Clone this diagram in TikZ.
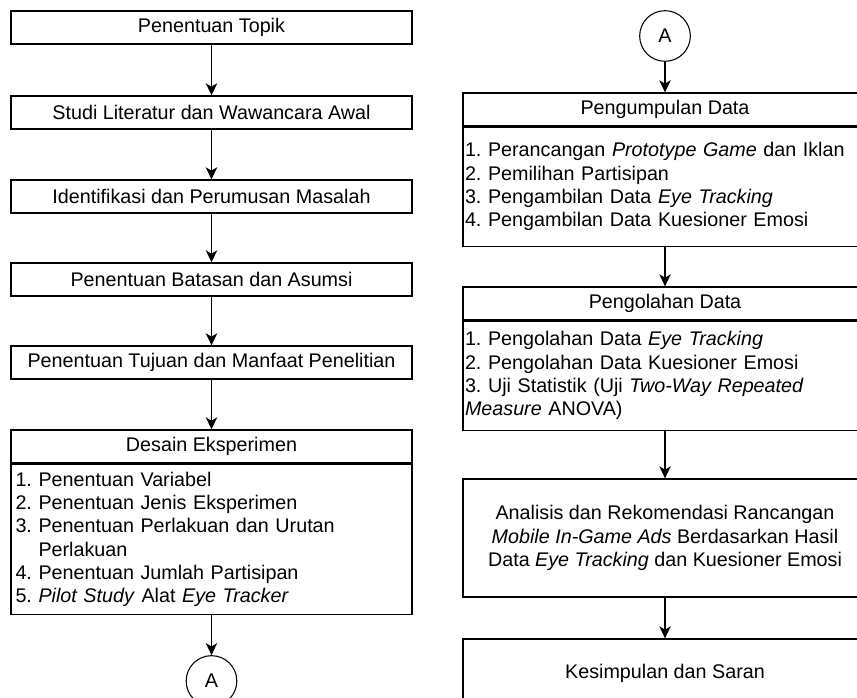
\documentclass[tikz,border=0pt]{standalone}
\usepackage{fontspec}
\setmainfont{Liberation Sans}
\usetikzlibrary{arrows.meta}
\frenchspacing

\begin{document}
\begin{tikzpicture}[x=0.75pt,y=-0.75pt,
	every node/.style={font=\fontsize{14.8}{17.5}\selectfont},
	kotak/.style={draw, line width=1pt, rectangle, inner sep=0pt},
	kiri/.style={kotak, minimum width=300.75pt},
	kanan/.style={kotak, minimum width=303pt},
	isikiri/.style={kiri, align=left, text width=294pt},
	isikanan/.style={kanan, align=left, text width=300pt},
	konektor/.style={draw, circle, line width=0.8pt, minimum size=38pt, inner sep=0pt},
	panah/.style={line width=1pt, -{Stealth[length=9pt,width=8.5pt,inset=2.5pt]}}]
	\useasboundingbox (0,0) rectangle (857,698);
	\clip (0,0) rectangle (857,698);
	% kolom kiri
	\node [kiri, minimum height=24.75pt] (topik) at (211.5,27.5) {Penentuan Topik};
	\node [kiri, minimum height=24.75pt] (studi) at (211.5,112.5) {Studi Literatur dan Wawancara Awal};
	\node [kiri, minimum height=24.75pt] (identifikasi) at (211.5,196.5) {Identifikasi dan Perumusan Masalah};
	\node [kiri, minimum height=24.75pt] (batasan) at (211.5,279.5) {Penentuan Batasan dan Asumsi};
	\node [kiri, minimum height=24.75pt] (tujuan) at (211.5,362.5) {Penentuan Tujuan dan Manfaat Penelitian};
	\node [kiri, minimum height=24.75pt] (desain) at (211.5,446.5) {Desain Eksperimen};
	\node [isikiri, minimum height=112.5pt, anchor=north] (desainisi) at (desain.south) {%
		1. Penentuan Variabel\\
		2. Penentuan Jenis Eksperimen\\
		3. Penentuan Perlakuan dan Urutan\\
		\hphantom{3. }Perlakuan\\
		4. Penentuan Jumlah Partisipan\\
		5. \textit{Pilot Study} Alat \textit{Eye Tracker}};
	\node [konektor] (akiri) at (211.5,681) {A};
	% kolom kanan
	\node [konektor] (akanan) at (665,36) {A};
	\node [kanan, minimum height=24.75pt] (kumpul) at (665,109.5) {Pengumpulan Data};
	\node [isikanan, minimum height=89.25pt, anchor=north] (kumpulisi) at (kumpul.south) {%
		1. Perancangan \textit{Prototype Game} dan Iklan\\
		2. Pemilihan Partisipan\\
		3. Pengambilan Data \textit{Eye Tracking}\\
		4. Pengambilan Data Kuesioner Emosi};
	\node [kanan, minimum height=24.75pt] (olah) at (665,303.5) {Pengolahan Data};
	\node [isikanan, minimum height=81.75pt, anchor=north] (olahisi) at (olah.south) {%
		1. Pengolahan Data \textit{Eye Tracking}\\
		2. Pengolahan Data Kuesioner Emosi\\
		3. Uji Statistik (Uji \textit{Two-Way Repeated}\\
		\textit{Measure} ANOVA)};
	\node [kanan, minimum height=88.5pt, align=center] (analisis) at (665,538) {%
		Analisis dan Rekomendasi Rancangan\\
		\textit{Mobile In-Game Ads} Berdasarkan Hasil\\
		Data \textit{Eye Tracking} dan Kuesioner Emosi};
	\node [kanan, minimum height=51pt] (simpul) at (665,673) {Kesimpulan dan Saran};
	% panah
	\draw [panah] (topik) -- (studi);
	\draw [panah] (studi) -- (identifikasi);
	\draw [panah] (identifikasi) -- (batasan);
	\draw [panah] (batasan) -- (tujuan);
	\draw [panah] (tujuan) -- (desain);
	\draw [panah] (desainisi) -- (akiri);
	\draw [panah] (akanan) -- (kumpul);
	\draw [panah] (kumpulisi) -- (olah);
	\draw [panah] (olahisi) -- (analisis);
	\draw [panah] (analisis) -- (simpul);
\end{tikzpicture}
\end{document}
